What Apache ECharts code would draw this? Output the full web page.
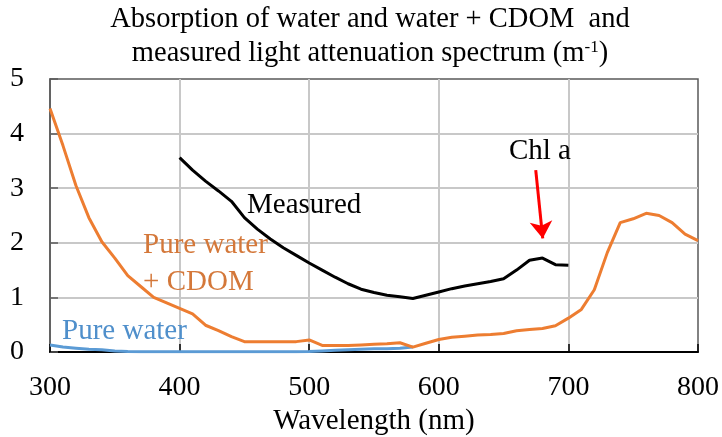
<!DOCTYPE html>
<html>
<head>
<meta charset="utf-8">
<script src="https://cdn.jsdelivr.net/npm/echarts@6/dist/echarts.min.js"></script>
<style>
  html, body { margin: 0; padding: 0; background: #fff; }
  #chart { width: 722px; height: 437px; }
</style>
</head>
<body>
<div id="chart"></div>
<script>
// Wavelength grid (nm) and spectra (m^-1)
const cdomWavelengths = [300, 310, 320, 330, 340, 350, 360, 370, 380, 390, 400, 410, 420, 430, 440, 450,
  460, 470, 480, 490, 500, 510, 520, 530, 540, 550, 560, 570, 580, 590, 600, 610, 620, 630, 640, 650,
  660, 670, 680, 690, 700, 710, 720, 730, 740, 750, 760, 770, 780, 790, 800];
const waterCdom = [4.46, 3.78, 3.05, 2.46, 2.02, 1.72, 1.40, 1.20, 1.00, 0.90, 0.80, 0.70, 0.49, 0.39, 0.28, 0.19,
  0.19, 0.19, 0.19, 0.19, 0.22, 0.12, 0.12, 0.12, 0.13, 0.14, 0.15, 0.17, 0.09, 0.16, 0.23, 0.27, 0.29, 0.31, 0.32, 0.34,
  0.39, 0.41, 0.43, 0.48, 0.62, 0.78, 1.14, 1.82, 2.37, 2.44, 2.54, 2.50, 2.37, 2.16, 2.04];

const measuredWavelengths = [400, 410, 420, 430, 440, 450, 460, 470, 480, 490, 500, 510, 520, 530, 540, 550,
  560, 570, 580, 590, 600, 610, 620, 630, 640, 650, 660, 670, 680, 690, 700];
const measured = [3.56, 3.33, 3.13, 2.95, 2.76, 2.46, 2.25, 2.07, 1.91, 1.77, 1.63, 1.50, 1.37, 1.25, 1.15, 1.09,
  1.04, 1.01, 0.98, 1.04, 1.10, 1.16, 1.21, 1.25, 1.29, 1.34, 1.50, 1.68, 1.72, 1.60, 1.59];

const waterWavelengths = [300, 310, 320, 330, 340, 350, 360, 370, 380, 390, 400, 410, 420, 430, 440, 450,
  460, 470, 480, 490, 500, 510, 520, 530, 540, 550, 560, 570, 580];
const pureWater = [0.13, 0.09, 0.07, 0.05, 0.04, 0.02, 0.01, 0.005, 0.005, 0.005, 0.005, 0.005, 0.005, 0.005, 0.005, 0.005,
  0.005, 0.005, 0.005, 0.005, 0.01, 0.02, 0.03, 0.04, 0.05, 0.06, 0.06, 0.07, 0.09];

const xTicks = { min: 300, max: 800, step: 100 };
const yTicks = { min: 0, max: 5, step: 1 };

// Chlorophyll-a arrow (start, tip) in data units
const chlArrow = [[674.8, 3.33], [680.2, 2.08]];

const FONT = 'Liberation Serif';
const ORANGE = '#ED7D31';
const BLUE = '#5B9BD5';

function pairs(xs, ys) { return xs.map((x, i) => [x, ys[i]]); }

const chart = echarts.init(document.getElementById('chart'), null, { renderer: 'canvas' });

chart.setOption({
  animation: false,
  backgroundColor: '#fff',
  grid: {
    left: 50, right: 24, top: 79, bottom: 85,
    outerBoundsMode: 'none',
    containLabel: false,
    show: true, borderColor: '#595959', borderWidth: 1.5, backgroundColor: 'transparent'
  },
  xAxis: {
    type: 'value',
    min: xTicks.min, max: xTicks.max, interval: xTicks.step,
    name: 'Wavelength (nm)',
    nameLocation: 'middle',
    nameGap: 50,
    nameTextStyle: { fontFamily: FONT, fontSize: 29, color: '#000' },
    axisLine: { lineStyle: { color: '#000', width: 2 } },
    axisTick: { inside: true, length: 8, lineStyle: { color: '#000', width: 1.5 } },
    axisLabel: { fontFamily: FONT, fontSize: 28, color: '#000', margin: 22 },
    splitLine: { show: true, showMinLine: false, showMaxLine: false, lineStyle: { color: '#c8c8c8', width: 2 } }
  },
  yAxis: {
    type: 'value',
    min: yTicks.min, max: yTicks.max, interval: yTicks.step,
    axisLine: { show: true, lineStyle: { color: '#595959', width: 1.5 } },
    axisTick: { show: true, inside: true, length: 8, lineStyle: { color: '#595959', width: 1.5 } },
    axisLabel: { fontFamily: FONT, fontSize: 28, color: '#000', margin: 26 },
    splitLine: { show: true, showMinLine: false, showMaxLine: false, lineStyle: { color: '#c8c8c8', width: 2 } }
  },
  series: [
    {
      name: 'Pure water',
      type: 'line',
      data: pairs(waterWavelengths, pureWater),
      showSymbol: false,
      lineStyle: { color: BLUE, width: 3 },
      z: 2
    },
    {
      name: 'Pure water + CDOM',
      type: 'line',
      data: pairs(cdomWavelengths, waterCdom),
      showSymbol: false,
      lineStyle: { color: ORANGE, width: 3 },
      z: 3
    },
    {
      name: 'Measured',
      type: 'line',
      data: pairs(measuredWavelengths, measured),
      showSymbol: false,
      lineStyle: { color: '#000', width: 3 },
      z: 4,
      markLine: {
        silent: true,
        symbol: ['none', 'arrow'],
        symbolSize: [17, 17],
        label: { show: false },
        lineStyle: { color: '#FF0000', width: 3, type: 'solid' },
        data: [[{ coord: chlArrow[0] }, { coord: chlArrow[1] }]]
      }
    }
  ]
});

// Text annotations anchored in data coordinates
const notes = [
  { text: 'Measured', at: [452, 2.69], color: '#000', align: 'left' },
  { text: 'Chl a', at: [678, 3.68], color: '#000', align: 'center' },
  { text: 'Pure water', at: [371.8, 1.96], color: '#D4783A', align: 'left' },
  { text: '+ CDOM', at: [371.8, 1.28], color: '#D4783A', align: 'left' },
  { text: 'Pure water', at: [309.3, 0.385], color: '#4F8FCB', align: 'left' }
];

const graphics = notes.map(n => {
  const p = chart.convertToPixel({ gridIndex: 0 }, n.at);
  return {
    type: 'text', x: p[0], y: p[1], z: 10,
    style: { text: n.text, fill: n.color, font: '29px "' + FONT + '"', textAlign: n.align, textVerticalAlign: 'middle' }
  };
});

graphics.push({
  type: 'text', x: 370, y: 20, z: 10,
  style: { text: 'Absorption of water and water + CDOM  and', fill: '#000', font: '28.5px "' + FONT + '"', textAlign: 'center', textVerticalAlign: 'middle' }
});
graphics.push({
  type: 'text', x: 370, y: 54, z: 10,
  style: {
    text: 'measured light attenuation spectrum (m{sup|-1})',
    fill: '#000', font: '28.5px "' + FONT + '"', textAlign: 'center', textVerticalAlign: 'middle',
    rich: { sup: { fontFamily: FONT, fontSize: 17, verticalAlign: 'top', padding: [0, 0, 12, 0], fill: '#000' } }
  }
});

chart.setOption({ graphic: graphics });
</script>
</body>
</html>
